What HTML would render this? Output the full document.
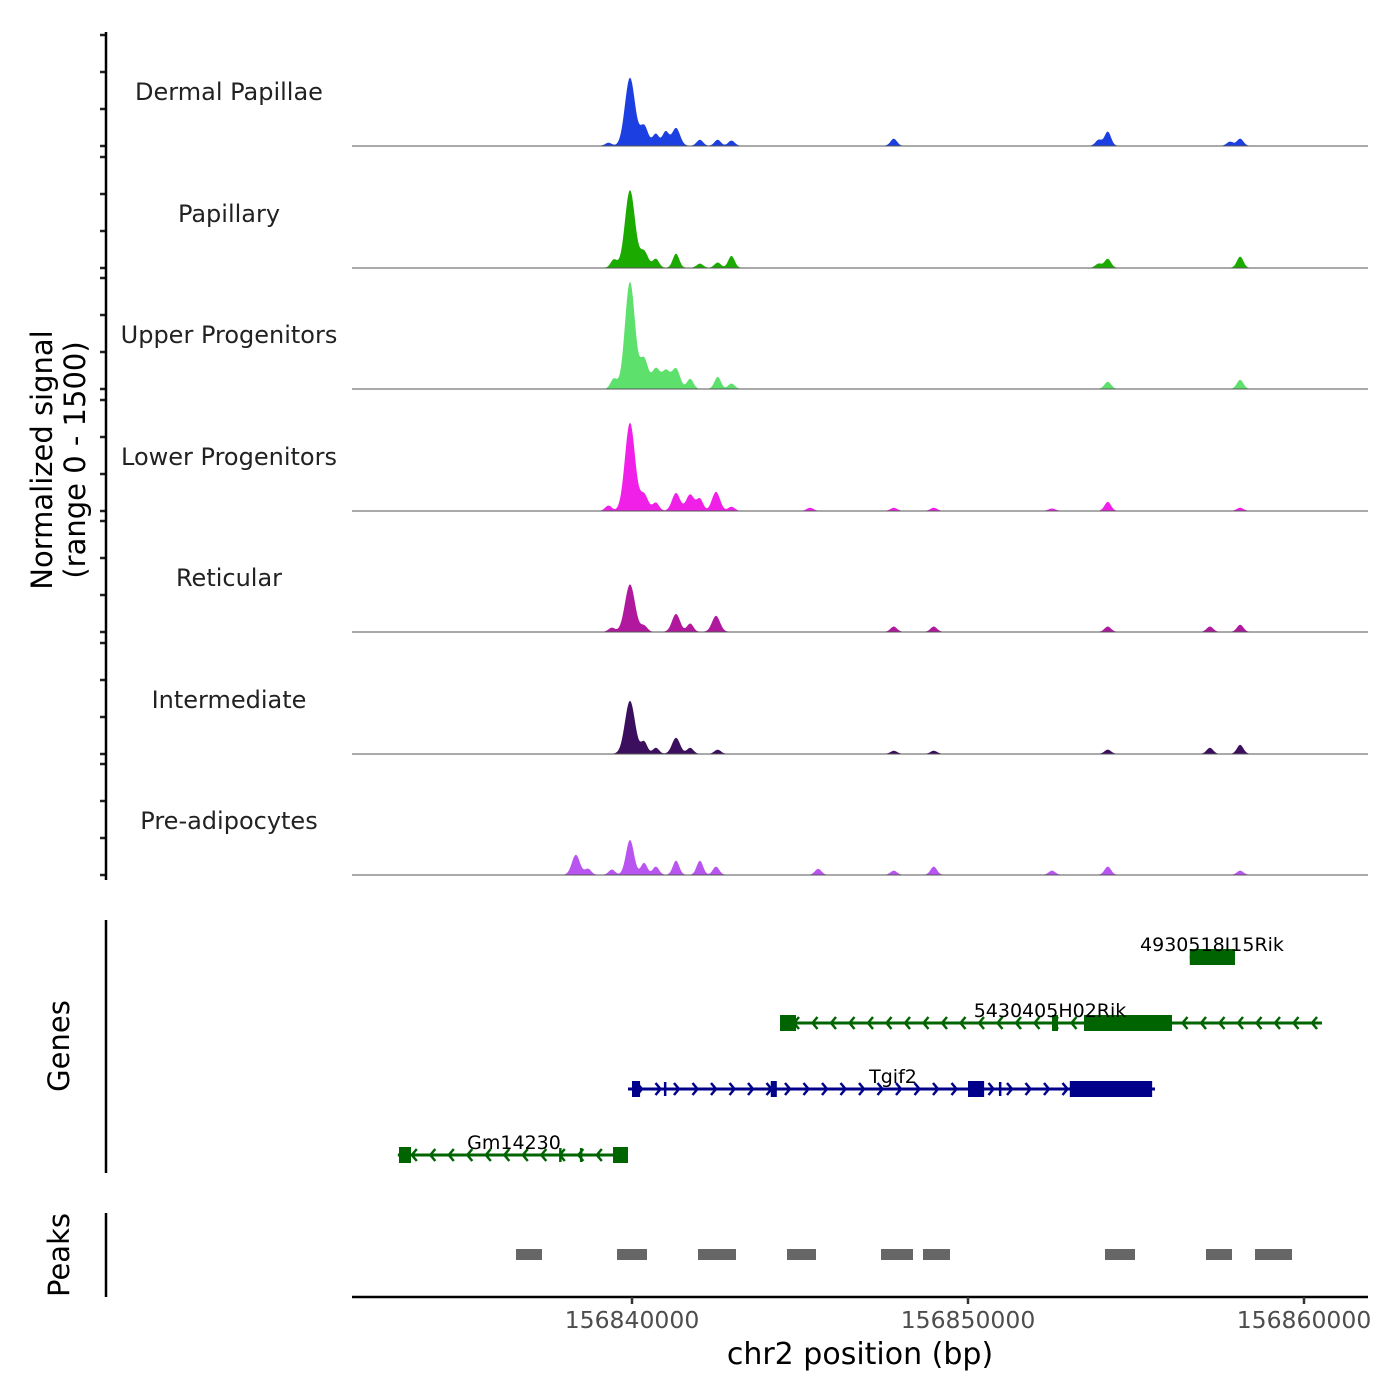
<!DOCTYPE html>
<html><head><meta charset="utf-8">
<style>
html,body{margin:0;padding:0;background:#fff;}
svg{display:block;font-family:"DejaVu Sans","Liberation Sans",sans-serif;}
</style></head>
<body>
<svg id="chart" width="1400" height="1400" viewBox="0 0 1400 1400"></svg>
<script>
// ---- data ----
const trackNames = ["Dermal Papillae","Papillary","Upper Progenitors","Lower Progenitors","Reticular","Intermediate","Pre-adipocytes"];
const trackColors = ["#1b3fe0","#1aaa00","#5ee06c","#f020e8","#b0189e","#3b0f5e","#b855f0"];
const dpPos = [156839300,156839940,156840360,156840710,156841000,156841310,156842020,156842550,156842960,156847790,156853890,156854160,156857800,156858100];
const dpVal = [40,920,270,160,190,240,80,80,70,95,80,190,55,95];
const papPos = [156839460,156839940,156840360,156840710,156841310,156842020,156842550,156842960,156853890,156854160,156858100];
const papVal = [110,1050,220,120,190,55,70,160,55,120,150];
const upPos = [156839460,156839940,156840360,156840710,156841010,156841310,156841730,156842550,156842960,156854160,156858100];
const upVal = [135,1445,400,270,240,270,135,160,70,95,120];
const lowPos = [156839300,156839940,156840360,156840710,156841310,156841730,156842020,156842500,156842960,156845300,156847790,156848980,156852500,156854160,156858100];
const lowVal = [70,1190,220,110,240,220,160,255,55,40,40,40,30,120,40];
const retPos = [156839400,156839940,156840360,156841310,156841730,156842500,156847790,156848980,156854160,156857200,156858100];
const retVal = [55,640,80,240,110,215,70,70,70,70,95];
const intPos = [156839940,156840360,156840710,156841310,156841730,156842550,156847790,156848980,156854160,156857200,156858100];
const intVal = [715,160,80,215,80,55,40,40,55,80,120];
const prePos = [156838330,156838690,156839400,156839940,156840360,156840710,156841310,156842020,156842500,156845540,156847790,156848980,156852500,156854160,156858100];
const preVal = [270,80,70,470,160,110,190,190,110,80,55,110,55,110,55];
const trackPos = [dpPos,papPos,upPos,lowPos,retPos,intPos,prePos];
const trackVal = [dpVal,papVal,upVal,lowVal,retVal,intVal,preVal];
const geneNames = ["4930518I15Rik","5430405H02Rik","Tgif2","Gm14230"];
const geneStrand = [-1,-1,1,-1];
const geneStart = [156856600,156844405,156839881,156833030];
const geneEnd = [156857946,156860536,156855565,156839881];
const geneRow = [0,1,2,3];
const geneColor = ["#006400","#006400","#00008b","#006400"];
const geneExons = [
 [[156856600,156857946,1]],
 [[156844405,156844881,1],[156852500,156852679,1],[156853452,156856071,1]],
 [[156840000,156840240,1],[156840950,156841010,0],[156844130,156844310,1],[156850000,156850480,1],[156850920,156850980,0],[156853030,156855480,1]],
 [[156833065,156833423,1],[156837830,156837890,0],[156838450,156838510,0],[156839435,156839881,1]]
];
const peakStart = [156836548,156839554,156841964,156844613,156847411,156848661,156854077,156857083,156858542];
const peakEnd = [156837321,156840446,156843095,156845476,156848363,156849464,156854970,156857857,156859643];
const xTicks = [156840000,156850000,156860000];
const yTickVals = [0,500,1000,1500];

// ---- scales ----
const X0 = 156840000, PX0 = 632, PPB = 336/10000;
const xs = v => PX0 + (v - X0) * PPB;
const panelBase = [146,268,389,511,632,754,875];
const ys = (v,i) => panelBase[i] - v/1500*111;

const svg = document.getElementById('chart');
const NS = 'http://www.w3.org/2000/svg';
function mk(tag, attrs, parent){ const e=document.createElementNS(NS,tag); for(const k in attrs) e.setAttribute(k,attrs[k]); (parent||svg).appendChild(e); return e; }

for(let i=0;i<7;i++){
  const g = mk('g',{});
  
  
  const P = trackPos[i], V = trackVal[i];
  let d = 'M352,'+panelBase[i];
  for(let x=352;x<=1368;x+=1){
    let s = 4;
    for(let k=0;k<P.length;k++){
      const w = V[k]>600?5:(V[k]>200?4:3.2);
      const dx = x - xs(P[k]);
      s += V[k]*Math.exp(-dx*dx/(2*w*w));
    }
    d += ' L'+x+','+ys(Math.min(s,1500),i).toFixed(1);
  }
  d += ' L1368,'+panelBase[i]+' Z';
  const p = mk('path',{d:d,fill:trackColors[i]},g);
  
  
  const bl = mk('line',{x1:352,x2:1368,y1:panelBase[i],y2:panelBase[i],stroke:'#555','stroke-width':1},g);
  
  
  const t = mk('text',{x:229,y:panelBase[i]-46,'text-anchor':'middle','font-size':24,fill:'#222'},g);
  t.textContent = trackNames[i];
  
  
  for(const tv of yTickVals){
    const tk = mk('line',{x1:100,x2:106,y1:ys(tv,i),y2:ys(tv,i),stroke:'#222','stroke-width':2.5});
    
    
  }
}
const ya = mk('line',{x1:106,x2:106,y1:32,y2:880,stroke:'#000','stroke-width':2.5});


const yt = mk('text',{transform:'translate(52,460) rotate(-90)','text-anchor':'middle','font-size':29,fill:'#000'});


yt.innerHTML = '<tspan x="0" dy="0">Normalized signal</tspan><tspan x="0" dy="33">(range 0 - 1500)</tspan>';

const rowY = [957,1023,1089,1155];
const labelX = [1212,1050,893,514];
for(let i=0;i<geneNames.length;i++){
  const g = mk('g',{});
  
  
  const y = rowY[geneRow[i]], c = geneColor[i];
  const x1 = xs(geneStart[i]), x2 = xs(geneEnd[i]);
  mk('line',{x1:x1,x2:x2,y1:y,y2:y,stroke:c,'stroke-width':3},g);
  if(x2-x1>60){
    const st = geneStrand[i];
    for(let ax=x1+14; ax<x2-4; ax+=18.5){
      mk('polyline',{points:(ax-5*st)+','+(y-6)+' '+ax+','+y+' '+(ax-5*st)+','+(y+6),fill:'none',stroke:c,'stroke-width':2.5},g);
    }
  }
  for(const ex of geneExons[i]){
    const ex1 = xs(ex[0]), ex2 = xs(ex[1]);
    const h = ex[2]?16:14, w = Math.max(ex2-ex1, ex[2]?3:2.5);
    mk('rect',{x:ex1,y:y-h/2,width:w,height:h,fill:c},g);
  }
  const t = mk('text',{x:labelX[i],y:y-6,'text-anchor':'middle','font-size':19,fill:'#000'},g);
  t.textContent = geneNames[i];
  
  
}

const ga = mk('line',{x1:106,x2:106,y1:920,y2:1173,stroke:'#000','stroke-width':2.5});


const gt = mk('text',{transform:'translate(69,1046) rotate(-90)','text-anchor':'middle','font-size':29,fill:'#000'});
gt.textContent='Genes';



for(let i=0;i<peakStart.length;i++){
  const r = mk('rect',{x:xs(peakStart[i]),y:1249,width:xs(peakEnd[i])-xs(peakStart[i]),height:11,fill:'#666'});
  
  
}
const pa = mk('line',{x1:106,x2:106,y1:1213,y2:1297,stroke:'#000','stroke-width':2.5});


const pt = mk('text',{transform:'translate(69,1255) rotate(-90)','text-anchor':'middle','font-size':29,fill:'#000'});
pt.textContent='Peaks';



const xa = mk('line',{x1:352,x2:1368,y1:1297,y2:1297,stroke:'#000','stroke-width':2.5});


for(const tv of xTicks){
  const tk = mk('line',{x1:xs(tv),x2:xs(tv),y1:1297,y2:1304,stroke:'#333','stroke-width':2.5});
  
  
  const tl = mk('text',{x:xs(tv),y:1328,'text-anchor':'middle','font-size':23.5,fill:'#4d4d4d'});
  tl.textContent = tv;
  
  
}
const xt = mk('text',{x:860,y:1364,'text-anchor':'middle','font-size':30,fill:'#000'});
xt.textContent='chr2 position (bp)';


</script>
</body></html>
